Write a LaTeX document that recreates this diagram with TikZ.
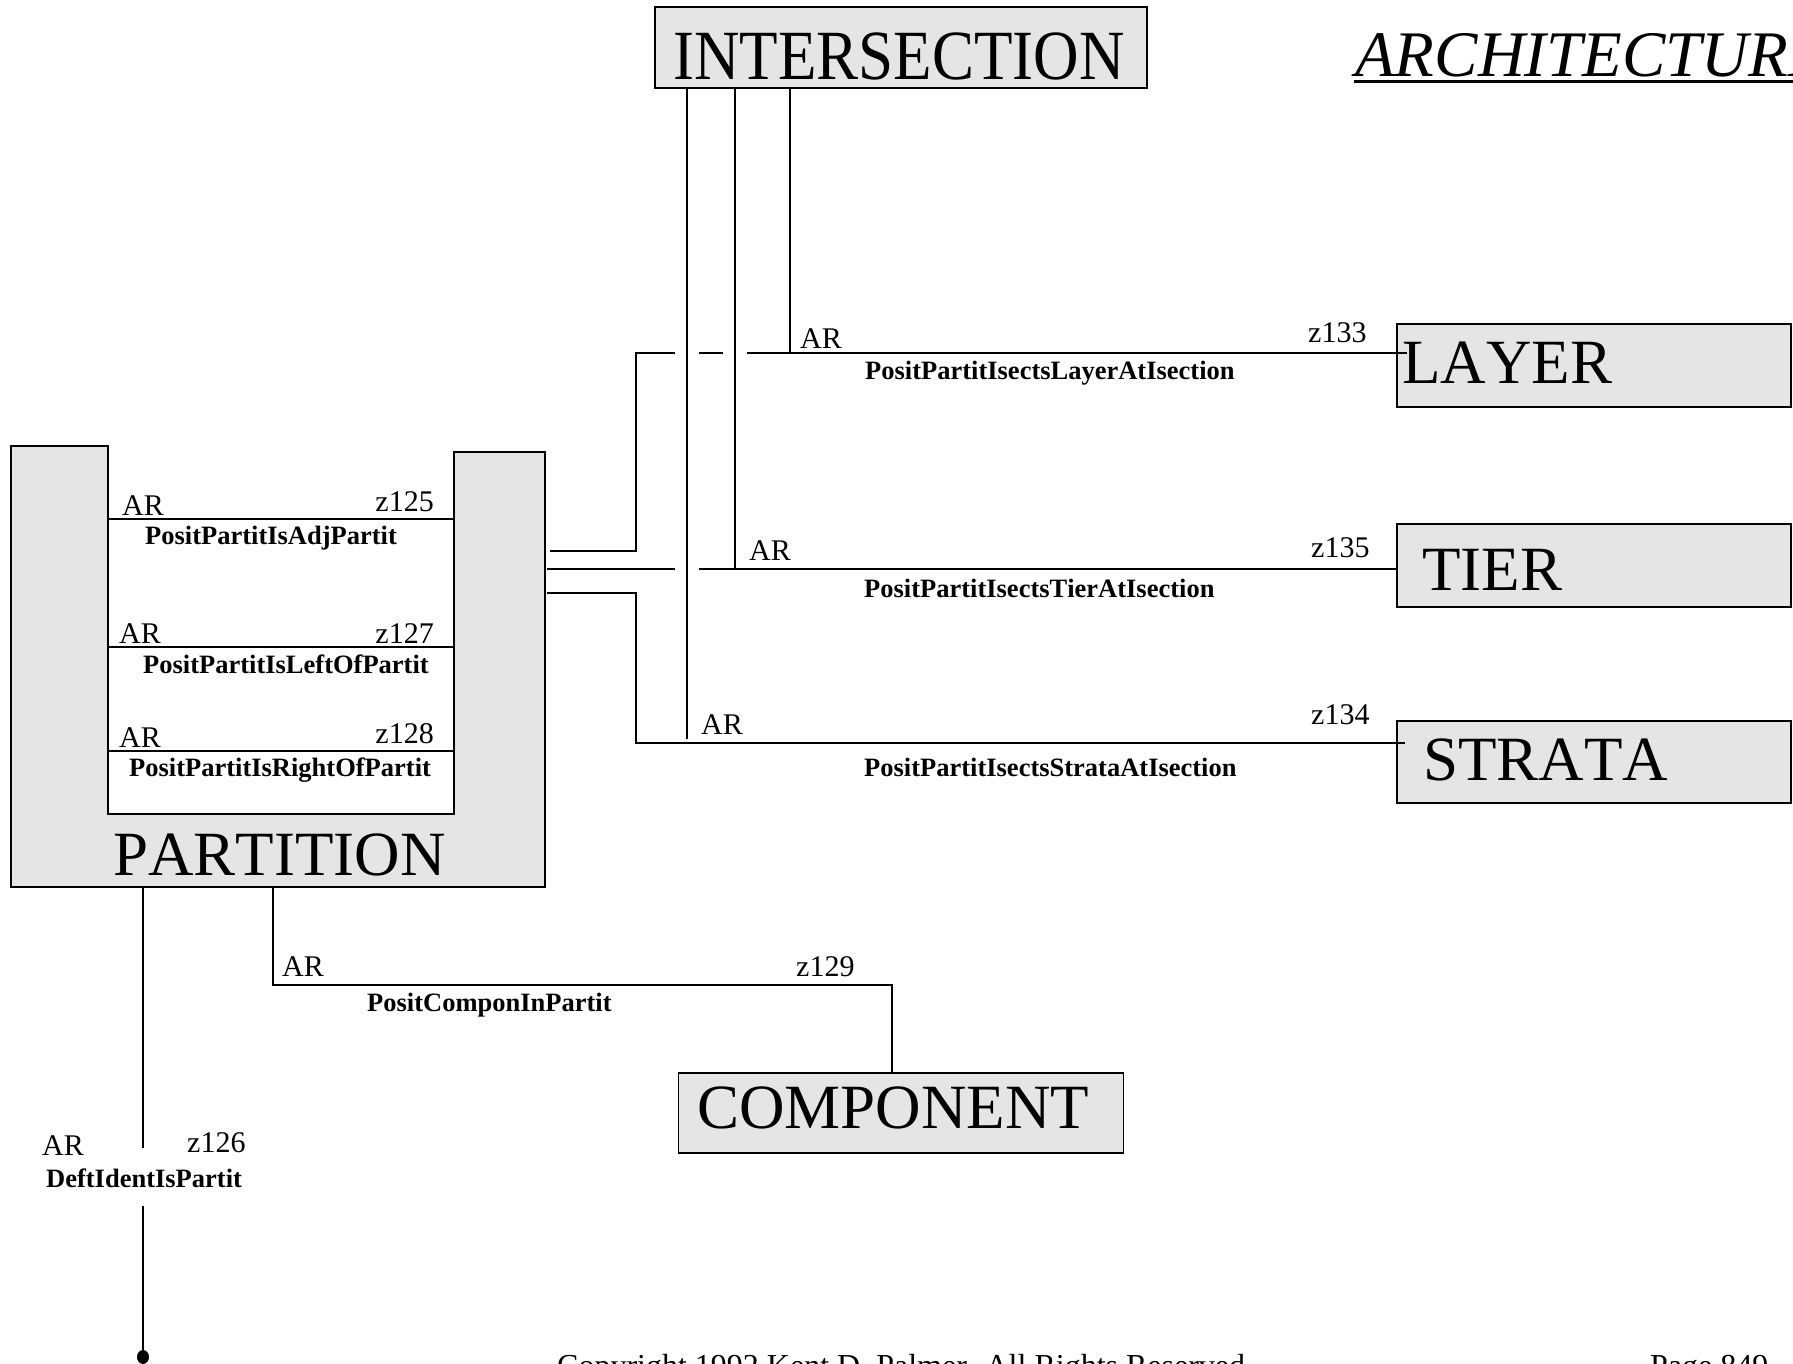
\documentclass[tikz,border=0pt]{standalone}
\usepackage{fontspec}
\setmainfont{Liberation Serif}[Kerning=Off]
\usepackage{graphicx}
\definecolor{boxgray}{RGB}{229,229,229}
\begin{document}
\begin{tikzpicture}[x=1pt,y=-1pt,
  ent/.style={draw=black,fill=boxgray,line width=1.8pt,inner sep=0pt},
  conn/.style={draw=black,line width=1.5pt},
  bigtxt/.style={anchor=base west,inner sep=0pt,font=\fontsize{63}{63}\selectfont},
  smalltxt/.style={anchor=base west,inner sep=0pt,font=\fontsize{30}{30}\selectfont},
  smallr/.style={anchor=base east,inner sep=0pt,font=\fontsize{30}{30}\selectfont},
  reltxt/.style={anchor=base west,inner sep=0pt,font=\bfseries\fontsize{26.5}{26.5}\selectfont},
  foot/.style={anchor=base west,inner sep=0pt,font=\fontsize{32}{32}\selectfont}]
\useasboundingbox (0,0) rectangle (1793,1364);

% ---------- entity boxes ----------
\node[ent,minimum width=492pt,minimum height=81pt] (isec) at (901,47.5) {};
\node[ent,minimum width=394pt,minimum height=83pt] (layer) at (1594,365.5) {};
\node[ent,minimum width=394pt,minimum height=83pt] (tier) at (1594,565.5) {};
\node[ent,minimum width=394pt,minimum height=82pt] (strata) at (1594,762) {};
\node[ent,minimum width=445pt,minimum height=80pt] (comp) at (901,1113) {};
\draw[ent] (11,446) -- (108,446) -- (108,814) -- (454,814) -- (454,452)
  -- (545,452) -- (545,887) -- (11,887) -- cycle;

\node[bigtxt] (tIsec) at (673,80) {\scalebox{1}[1.12]{INTERSECTION}};
\node[bigtxt] (tLayer) at (1402,383) {LAYER};
\node[bigtxt] (tTier) at (1422,590) {TIER};
\node[bigtxt] (tStrata) at (1423,780) {STRATA};
\node[bigtxt] (tPart) at (113,875) {PARTITION};
\node[bigtxt] (tComp) at (697,1128) {COMPONENT};
\node[bigtxt,font=\itshape\fontsize{65}{65}\selectfont] (title) at (1355,77) {ARCHITECTURE};
\draw[line width=2.8pt] (1354,81.5) -- (1800,81.5);

% ---------- named ports ----------
\coordinate (x1) at (687,0);
\coordinate (x2) at (735,0);
\coordinate (x3) at (790,0);
\coordinate (v1end) at (687,739);
\coordinate (v2end) at (735,569);
\coordinate (v3end) at (790,353);
\coordinate (pLay) at (550,551);
\coordinate (pTier) at (547,569);
\coordinate (pStr) at (547,593);
\coordinate (layIn) at (1407,353);
\coordinate (strIn) at (1405,743);
\coordinate (pComp) at (273,887);
\coordinate (pDeft) at (143,887);
\coordinate (deftEnd) at (143,1357);

% ---------- intersection verticals ----------
\draw[conn] (isec.south -| x1) -- (v1end);
\draw[conn] (isec.south -| x2) -- (v2end);
\draw[conn] (isec.south -| x3) -- (v3end);

% ---------- partition -> layer (with crossing gaps) ----------
\draw[conn] (pLay) -- (636,551) -- (636,353) -- (675,353);
\draw[conn] (699,353) -- (723,353);
\draw[conn] (747,353) -- (layIn);
% ---------- partition -> tier ----------
\draw[conn] (pTier) -- (675,569);
\draw[conn] (699,569) -- (tier.west |- v2end);
% ---------- partition -> strata ----------
\draw[conn] (pStr) -- (636,593) -- (636,743) -- (strIn);

% ---------- self relationships inside partition ----------
\coordinate (r1L) at (108,519); \coordinate (r1R) at (454,519);
\coordinate (r2L) at (108,647); \coordinate (r2R) at (454,647);
\coordinate (r3L) at (108,751); \coordinate (r3R) at (454,751);
\draw[conn] (r1L) -- (r1R);
\draw[conn] (r2L) -- (r2R);
\draw[conn] (r3L) -- (r3R);

% ---------- partition -> component ----------
\draw[conn] (pComp) -- (273,985) -- (892,985) -- (comp.north -| 892,0);

% ---------- DeftIdentIsPartit ----------
\draw[conn] (pDeft) -- (143,1148);
\draw[conn] (143,1206) -- (deftEnd);
\fill (deftEnd) ellipse [x radius=6pt, y radius=7pt];

% ---------- labels ----------
\node[smalltxt] (arL) at (800,348) {AR};
\node[smalltxt] (zL) at (1308,342) {z133};
\node[reltxt] (nL) at (865,379) {PositPartitIsectsLayerAtIsection};

\node[smalltxt] (arT) at (749,560) {AR};
\node[smalltxt] (zT) at (1311,557) {z135};
\node[reltxt] (nT) at (864,597) {PositPartitIsectsTierAtIsection};

\node[smalltxt] (arS) at (701,734) {AR};
\node[smalltxt] (zS) at (1311,724) {z134};
\node[reltxt] (nS) at (864,776) {PositPartitIsectsStrataAtIsection};

\node[smalltxt] (ar1) at (122,515) {AR};
\node[smallr] (z1) at (434,511) {z125};
\node[reltxt] (n1) at (145,544) {PositPartitIsAdjPartit};

\node[smalltxt] (ar2) at (119,643) {AR};
\node[smallr] (z2) at (434,643) {z127};
\node[reltxt] (n2) at (143,673) {PositPartitIsLeftOfPartit};

\node[smalltxt] (ar3) at (119,747) {AR};
\node[smallr] (z3) at (434,743) {z128};
\node[reltxt] (n3) at (129,776) {PositPartitIsRightOfPartit};

\node[smalltxt] (arC) at (282,976) {AR};
\node[smalltxt] (zC) at (796,976) {z129};
\node[reltxt] (nC) at (367,1011) {PositComponInPartit};

\node[smalltxt] (arD) at (42,1155) {AR};
\node[smalltxt] (zD) at (187,1152) {z126};
\node[reltxt] (nD) at (46,1187) {DeftIdentIsPartit};

% ---------- footer (cut by page edge, as in the reference) ----------
\node[foot] (copy) at (557,1376) {Copyright 1992 Kent D. Palmer. All Rights Reserved.};
\node[foot] (page) at (1650,1376) {Page 849};
\end{tikzpicture}
\end{document}
